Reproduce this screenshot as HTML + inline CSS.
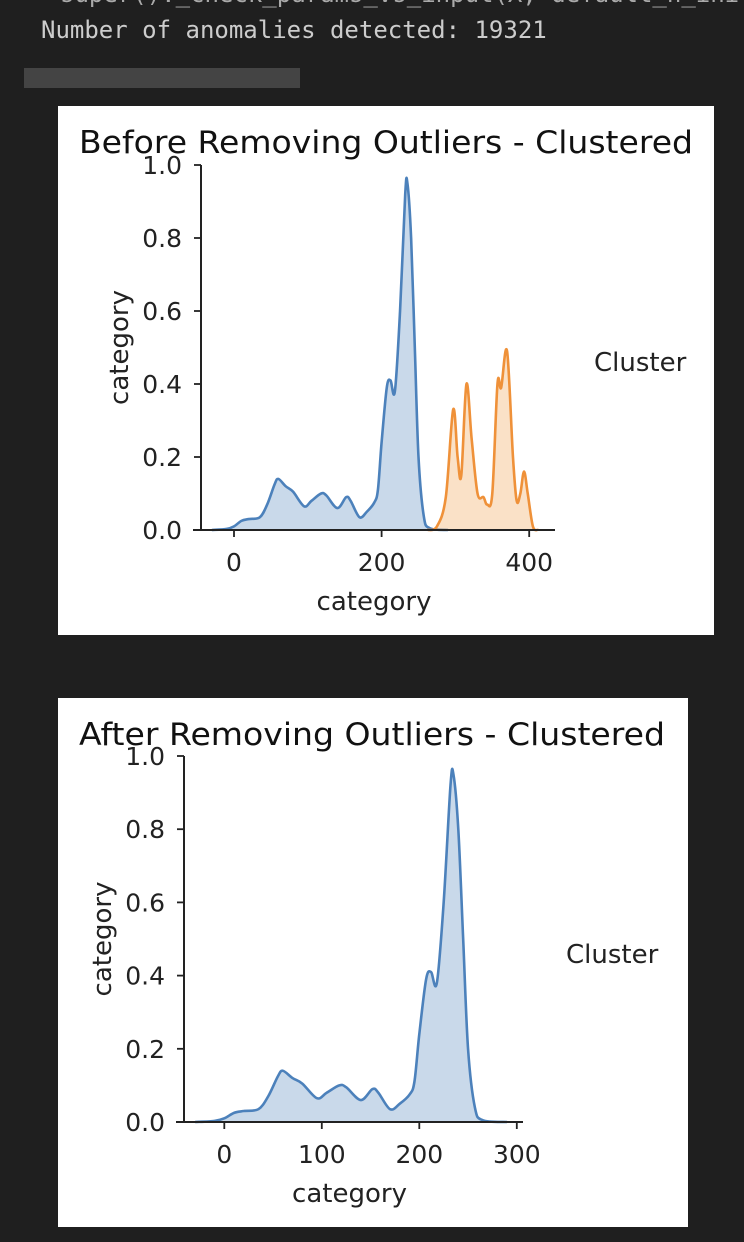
<!DOCTYPE html>
<html><head><meta charset="utf-8">
<style>
body{margin:0;width:744px;height:1242px;background:#1f1f1f;overflow:hidden;position:relative;font-family:"DejaVu Sans","Liberation Sans",sans-serif}
.mono{position:absolute;font-family:"DejaVu Sans Mono","Liberation Mono",monospace;color:#cccccc;font-size:24px;white-space:pre}
</style></head><body>
<div class="mono" style="left:60px;top:-20px;color:#aaa">super()._check_params_vs_input(X, default_n_init</div>
<div class="mono" style="left:41px;top:16px">Number of anomalies detected: 19321</div>
<div style="position:absolute;left:24px;top:68px;width:276px;height:20px;background:#444"></div>
<svg id="s" width="744" height="1242" style="position:absolute;left:0;top:0"></svg>
<script>
const blueX=[-30,-10,0,10,20,35,45,55,60,70,80,95,105,118,125,140,152,158,170,180,190,195,200,207,212,218,225,232,235,240,245,250,257,265,290];
const blueY=[0,0.003,0.01,0.025,0.03,0.035,0.07,0.125,0.14,0.12,0.105,0.065,0.08,0.1,0.095,0.06,0.09,0.08,0.035,0.05,0.075,0.11,0.24,0.39,0.41,0.38,0.6,0.92,0.95,0.8,0.5,0.2,0.04,0.005,0];
const orangeX=[262,275,287,297,303,308,315,322,330,338,343,350,357,362,370,378,383,388,393,398,405,412];
const orangeY=[0,0.01,0.09,0.33,0.2,0.15,0.4,0.25,0.1,0.09,0.07,0.1,0.4,0.39,0.49,0.2,0.08,0.1,0.16,0.1,0.01,0];
const yTicks=[0,0.2,0.4,0.6,0.8,1.0];
const xTicks1=[0,200,400];
const xTicks2=[0,100,200,300];
const svg=document.getElementById('s');
const NS='http://www.w3.org/2000/svg';
function el(t,a,p){const e=document.createElementNS(NS,t);for(const k in a)e.setAttribute(k,a[k]);(p||svg).appendChild(e);return e;}
function txt(s,a){const e=el('text',a);e.textContent=s;return e;}
function smooth(pts){let d='M'+pts[0][0]+','+pts[0][1];for(let i=0;i<pts.length-1;i++){const p0=pts[Math.max(0,i-1)],p1=pts[i],p2=pts[i+1],p3=pts[Math.min(pts.length-1,i+2)];
d+=` C${p1[0]+(p2[0]-p0[0])/6},${p1[1]+(p2[1]-p0[1])/6} ${p2[0]-(p3[0]-p1[0])/6},${p2[1]-(p3[1]-p1[1])/6} ${p2[0]},${p2[1]}`;}return d;}
function chart(o){
 const g=el('g',{});
 
 
 const bg=el('rect',{x:o.box[0],y:o.box[1],width:o.box[2],height:o.box[3],fill:'#fff'},g);
 
 const sx=v=>o.x0+(v-0)*o.kx, sy=v=>o.y0-(v)*(o.y0-o.y1);
 o.series.forEach(s=>{
  const pts=s.x.map((v,i)=>[sx(v),sy(s.y[i])]);
  const d=smooth(pts);
  const f=el('path',{d:d+` L${pts[pts.length-1][0]},${o.y0} L${pts[0][0]},${o.y0} Z`,fill:s.fill,'fill-opacity':0.3,stroke:'none'},g);
  
  const l=el('path',{d:d,fill:'none',stroke:s.c,'stroke-width':2.6,'stroke-linejoin':'round'},g);
  
 });
 const ax=el('path',{d:`M${o.ax},${o.y1} V${o.y0} M${o.xl[0]},${o.y0} H${o.xl[1]}`,stroke:'#222','stroke-width':2,fill:'none'},g);
 
 yTicks.forEach(t=>{el('line',{x1:o.ax-7,x2:o.ax,y1:sy(t),y2:sy(t),stroke:'#222','stroke-width':1.8},g);
  const e=txt(t.toFixed(1),{x:o.ax-19,y:sy(t)+9,'text-anchor':'end','font-size':25,fill:'#222'});});
 o.xt.forEach(t=>{el('line',{x1:sx(t),x2:sx(t),y1:o.y0,y2:o.y0+7,stroke:'#222','stroke-width':1.8},g);
  const e=txt(String(t),{x:sx(t),y:o.y0+41,'text-anchor':'middle','font-size':25,fill:'#222'});});
 let e=txt(o.title,{x:o.tx,y:o.box[1]+47,'text-anchor':'middle','font-size':31,fill:'#111',textLength:o.tw,lengthAdjust:'spacingAndGlyphs'});
 e=txt('category',{x:(o.xl[0]+o.xl[1])/2,y:o.y0+80,'text-anchor':'middle','font-size':26,fill:'#222'});
 const cy=(o.y0+o.y1)/2, lx=o.ax-82;
 e=txt('category',{x:lx,y:cy+9,'text-anchor':'middle','font-size':26,fill:'#222',transform:`rotate(-90 ${lx} ${cy})`});
 
 e=txt('Cluster',{x:o.lx,y:o.ly,'font-size':26,fill:'#222'});
}
chart({name:'before-chart',box:[58,106,656,529],x0:234,kx:0.738,y0:530,y1:165,ax:201,xl:[193,555],xt:xTicks1,
 title:'Before Removing Outliers - Clustered',tx:386,tw:614,lx:594,ly:371,
 series:[{name:'cluster-0',x:blueX,y:blueY,c:'#4c81bb',fill:'#4c81bb'},{name:'cluster-1',x:orangeX,y:orangeY,c:'#ef9139',fill:'#f09a45'}]});
chart({name:'after-chart',box:[58,698,630,529],x0:224.3,kx:0.975,y0:1122,y1:756,ax:184,xl:[176,523],xt:xTicks2,
 title:'After Removing Outliers - Clustered',tx:372,tw:586,lx:566,ly:963,
 series:[{name:'cluster-0',x:blueX,y:blueY,c:'#4c81bb',fill:'#4c81bb'}]});
</script>
</body></html>
